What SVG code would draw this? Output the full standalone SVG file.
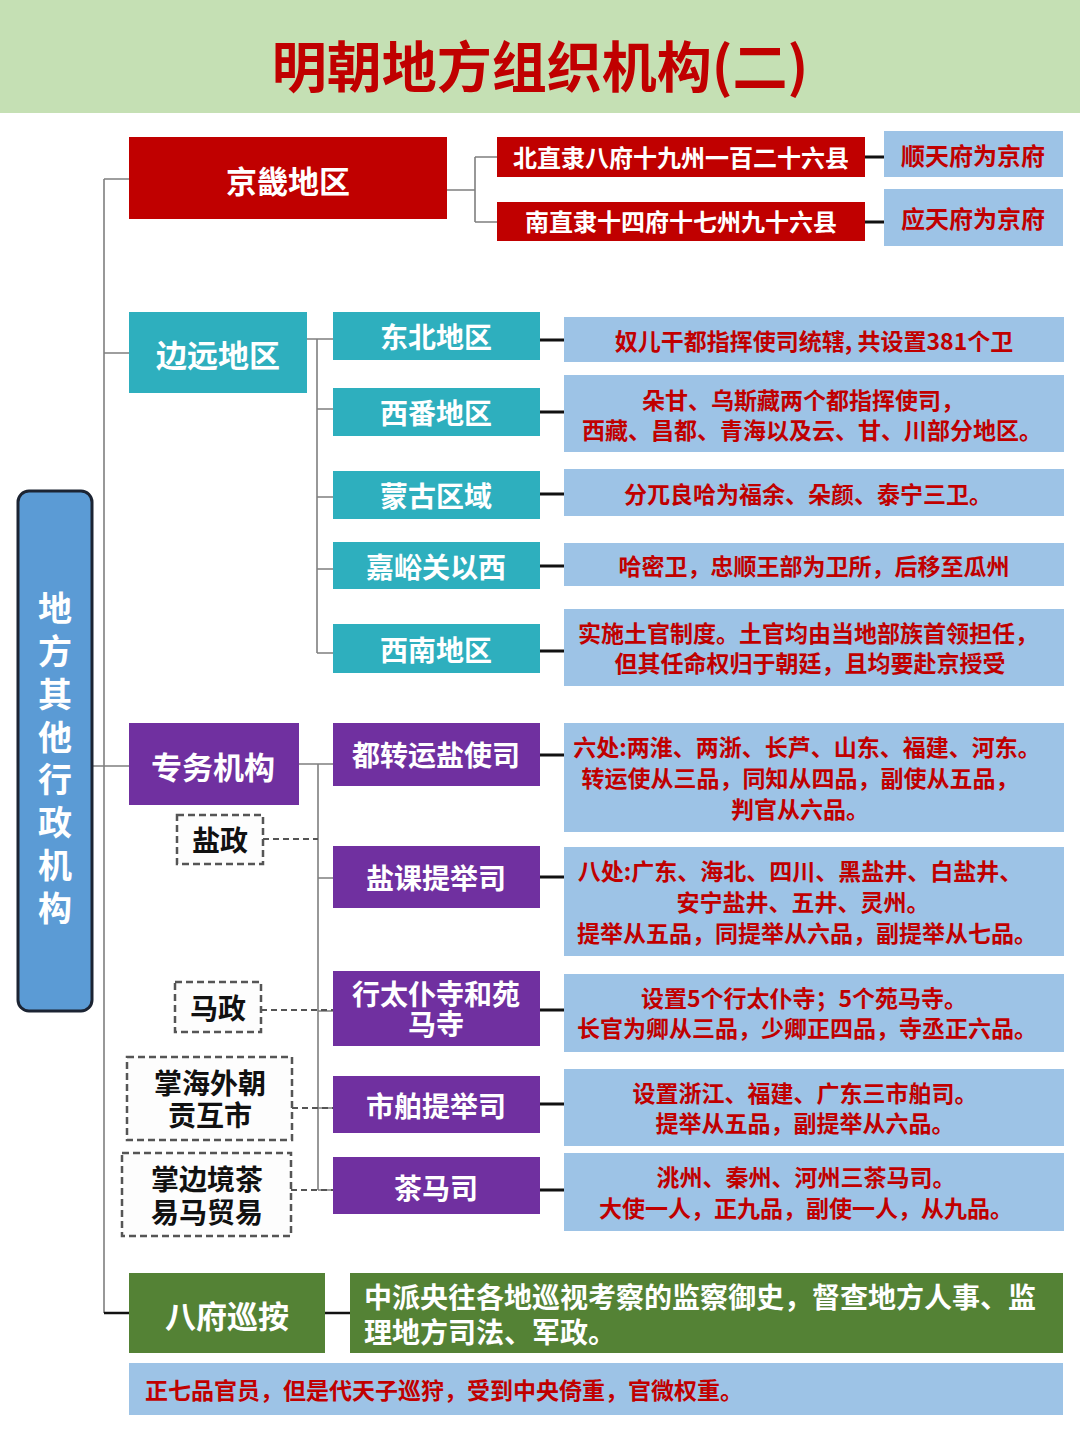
<svg xmlns="http://www.w3.org/2000/svg" width="1080" height="1439" viewBox="0 0 1080 1439">
<style>
text{font-family:"Noto Sans CJK SC","Noto Sans",sans-serif;font-weight:bold;dominant-baseline:central;text-anchor:middle}
.w{fill:#ffffff}
.r{fill:#c00000}
.k{fill:#111111}
.red{fill:#c00000}
.teal{fill:#2eafbe}
.pur{fill:#7030a0}
.grn{fill:#548235}
.lb{fill:#9dc3e6}
.dash{fill:#fdfdfd;stroke:#555555;stroke-width:2.5;stroke-dasharray:7 4}
.g{fill:none;stroke:#7f7f7f;stroke-width:1.6}
.b{fill:none;stroke:#111111;stroke-width:3}
.d{fill:none;stroke:#555555;stroke-width:2.2;stroke-dasharray:6 4}
.t30{font-size:31px}
.t28{font-size:28px}
.t24{font-size:24px}
.t23{font-size:23px}
</style>
<rect x="0" y="0" width="1080" height="1439" fill="#ffffff"/>
<g id="title">
<rect x="0" y="0" width="1080" height="113" fill="#c5e0b4"/>
<text x="540" y="63" class="r" style="font-size:55px">明朝地方组织机构(二)</text>
</g>
<g id="connectors">
<path class="g" d="M104,179 V1313 M104,179 H129 M104,353 H129 M92,766 H129"/>
<path class="b" d="M104,1313 H129 M325,1313 H350" style="stroke-width:2.5"/>
<path class="g" d="M447,190 H475 M475,157 V222 M475,157 H497 M475,222 H497"/>
<path class="b" d="M865,157 H884 M865,222 H884"/>
<path class="g" d="M307,339 H317 M317,339 V653 M317,339 H333 M317,409 H333 M317,497 H333 M317,569 H333 M317,653 H333"/>
<path class="b" d="M540,340 H564 M540,412 H564 M540,494 H564 M540,566 H564 M540,651 H564"/>
<path class="g" d="M298,764 H318 M318,764 V1190 M318,764 H333 M318,878 H333 M318,1011 H333 M318,1108 H333 M318,1190 H333"/>
<path class="b" d="M540,755 H564 M540,877 H564 M540,1010 H564 M540,1104 H564 M540,1190 H564"/>
<path class="d" d="M263,839 H318 M261,1010 H333 M292,1108 H333 M291,1190 H333"/>
</g>
<g id="root">
<rect x="18" y="491" width="74" height="520" rx="11" fill="#5b9bd5" stroke="#1c2433" stroke-width="3"/>
<text class="w" style="font-size:34px"><tspan x="55" y="606">地</tspan><tspan x="55" y="649">方</tspan><tspan x="55" y="692">其</tspan><tspan x="55" y="735">他</tspan><tspan x="55" y="777">行</tspan><tspan x="55" y="820">政</tspan><tspan x="55" y="863">机</tspan><tspan x="55" y="906">构</tspan></text>
</g>
<g id="jingji">
<rect x="129" y="137" width="318" height="82" class="red"/>
<text x="288" y="179" class="w t30">京畿地区</text>
</g>
<g id="beizhili">
<rect x="497" y="137" width="368" height="40" class="red"/>
<text x="681" y="156" class="w t24">北直隶八府十九州一百二十六县</text>
</g>
<g id="nanzhili">
<rect x="497" y="202" width="368" height="39" class="red"/>
<text x="681" y="220" class="w t24">南直隶十四府十七州九十六县</text>
</g>
<g id="shuntian">
<rect x="884" y="131" width="179" height="46" class="lb"/>
<text x="973" y="154" class="r t24">顺天府为京府</text>
</g>
<g id="yingtian">
<rect x="884" y="189" width="179" height="57" class="lb"/>
<text x="973" y="217" class="r t24">应天府为京府</text>
</g>
<g id="bianyuan">
<rect x="129" y="312" width="178" height="81" class="teal"/>
<text x="218" y="353" class="w t30">边远地区</text>
</g>
<g id="dongbei">
<rect x="333" y="312" width="207" height="48" class="teal"/>
<text x="436" y="336" class="w t28">东北地区</text>
</g>
<g id="xifan">
<rect x="333" y="388" width="207" height="48" class="teal"/>
<text x="436" y="412" class="w t28">西番地区</text>
</g>
<g id="menggu">
<rect x="333" y="471" width="207" height="48" class="teal"/>
<text x="436" y="495" class="w t28">蒙古区域</text>
</g>
<g id="jiayuguan">
<rect x="333" y="542" width="207" height="47" class="teal"/>
<text x="436" y="566" class="w t28">嘉峪关以西</text>
</g>
<g id="xinan">
<rect x="333" y="624" width="207" height="49" class="teal"/>
<text x="436" y="649" class="w t28">西南地区</text>
</g>
<g id="desc-dongbei">
<rect x="564" y="317" width="500" height="45" class="lb"/>
<text x="814" y="340" class="r t23">奴儿干都指挥使司统辖, 共设置381个卫</text>
</g>
<g id="desc-xifan">
<rect x="564" y="375" width="500" height="77" class="lb"/>
<text class="r t23"><tspan x="803" y="399">朵甘、乌斯藏两个都指挥使司，</tspan><tspan x="812" y="429">西藏、昌都、青海以及云、甘、川部分地区。</tspan></text>
</g>
<g id="desc-menggu">
<rect x="564" y="469" width="500" height="47" class="lb"/>
<text x="808" y="493" class="r t23">分兀良哈为福余、朵颜、泰宁三卫。</text>
</g>
<g id="desc-jiayuguan">
<rect x="564" y="543" width="500" height="43" class="lb"/>
<text x="814" y="565" class="r t23">哈密卫，忠顺王部为卫所，后移至瓜州</text>
</g>
<g id="desc-xinan">
<rect x="564" y="609" width="500" height="77" class="lb"/>
<text class="r t23"><tspan x="808" y="632">实施土官制度。土官均由当地部族首领担任，</tspan><tspan x="810" y="662">但其任命权归于朝廷，且均要赴京授受</tspan></text>
</g>
<g id="zhuanwu">
<rect x="129" y="723" width="170" height="82" class="pur"/>
<text x="213" y="765" class="w t30">专务机构</text>
</g>
<g id="yanzheng">
<rect x="177" y="815" width="86" height="49" class="dash"/>
<text x="220" y="839" class="k t28">盐政</text>
</g>
<g id="mazheng">
<rect x="175" y="982" width="86" height="50" class="dash"/>
<text x="218" y="1007" class="k t28">马政</text>
</g>
<g id="haiwai">
<rect x="127" y="1057" width="165" height="83" class="dash"/>
<text class="k t28"><tspan x="210" y="1082">掌海外朝</tspan><tspan x="210" y="1114">贡互市</tspan></text>
</g>
<g id="chama-trade">
<rect x="122" y="1153" width="169" height="83" class="dash"/>
<text class="k t28"><tspan x="207" y="1178">掌边境茶</tspan><tspan x="207" y="1211">易马贸易</tspan></text>
</g>
<g id="duzhuanyun">
<rect x="333" y="723" width="207" height="63" class="pur"/>
<text x="436" y="754" class="w t28">都转运盐使司</text>
</g>
<g id="yanke">
<rect x="333" y="846" width="207" height="62" class="pur"/>
<text x="436" y="877" class="w t28">盐课提举司</text>
</g>
<g id="xingtaipu">
<rect x="333" y="971" width="207" height="75" class="pur"/>
<text class="w t28"><tspan x="436" y="993">行太仆寺和苑</tspan><tspan x="436" y="1023">马寺</tspan></text>
</g>
<g id="shibo">
<rect x="333" y="1076" width="207" height="57" class="pur"/>
<text x="436" y="1105" class="w t28">市舶提举司</text>
</g>
<g id="chamasi">
<rect x="333" y="1157" width="207" height="57" class="pur"/>
<text x="436" y="1187" class="w t28">茶马司</text>
</g>
<g id="desc-duzhuanyun">
<rect x="564" y="723" width="500" height="109" class="lb"/>
<text class="r t23"><tspan x="807" y="746">六处:两淮、两浙、长芦、山东、福建、河东。</tspan><tspan x="800" y="777">转运使从三品，同知从四品，副使从五品，</tspan><tspan x="800" y="808">判官从六品。</tspan></text>
</g>
<g id="desc-yanke">
<rect x="564" y="847" width="500" height="109" class="lb"/>
<text class="r t23"><tspan x="800" y="870">八处:广东、海北、四川、黑盐井、白盐井、</tspan><tspan x="803" y="901">安宁盐井、五井、灵州。</tspan><tspan x="807" y="932">提举从五品，同提举从六品，副提举从七品。</tspan></text>
</g>
<g id="desc-xingtaipu">
<rect x="564" y="974" width="500" height="78" class="lb"/>
<text class="r t23"><tspan x="804" y="997">设置5个行太仆寺；5个苑马寺。</tspan><tspan x="807" y="1027">长官为卿从三品，少卿正四品，寺丞正六品。</tspan></text>
</g>
<g id="desc-shibo">
<rect x="564" y="1069" width="500" height="77" class="lb"/>
<text class="r t23"><tspan x="805" y="1092">设置浙江、福建、广东三市舶司。</tspan><tspan x="805" y="1122">提举从五品，副提举从六品。</tspan></text>
</g>
<g id="desc-chamasi">
<rect x="564" y="1153" width="500" height="78" class="lb"/>
<text class="r t23"><tspan x="806" y="1176">洮州、秦州、河州三茶马司。</tspan><tspan x="806" y="1207">大使一人，正九品，副使一人，从九品。</tspan></text>
</g>
<g id="bafuxunan">
<rect x="129" y="1273" width="196" height="80" class="grn"/>
<text x="227" y="1314" class="w t30">八府巡按</text>
</g>
<g id="desc-xunan">
<rect x="350" y="1273" width="713" height="80" class="grn"/>
<text class="w t28" style="text-anchor:start"><tspan x="364" y="1296">中派央往各地巡视考察的监察御史，督查地方人事、监</tspan><tspan x="364" y="1331">理地方司法、军政。</tspan></text>
</g>
<g id="note-xunan">
<rect x="129" y="1363" width="934" height="52" class="lb"/>
<text x="145" y="1389" class="r t23" style="text-anchor:start">正七品官员，但是代天子巡狩，受到中央倚重，官微权重。</text>
</g>
</svg>
